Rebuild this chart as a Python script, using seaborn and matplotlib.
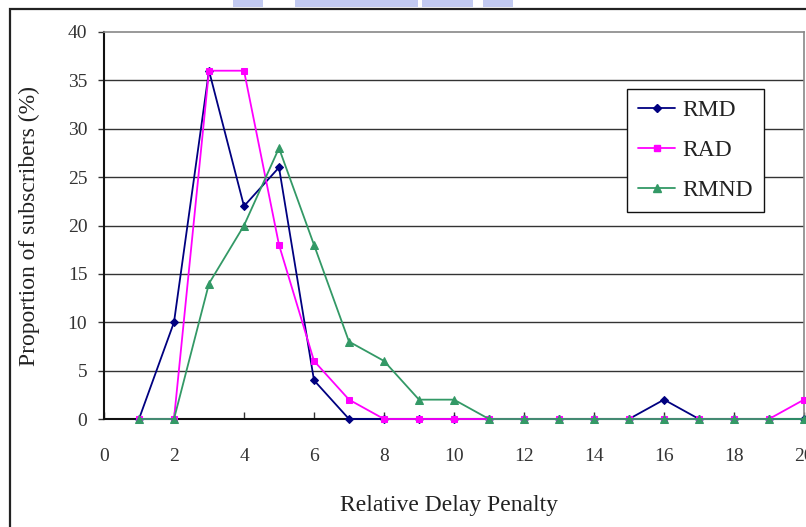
import numpy as np
import pandas as pd
import matplotlib
matplotlib.use("Agg")
import matplotlib.pyplot as plt
from matplotlib.patches import Rectangle
from matplotlib.lines import Line2D
import seaborn as sns

# Relative delay penalty (x) and share of subscribers (%) per scheme
penalty = list(range(1, 21))
rmd = [0, 10, 36, 22, 26, 4, 0, 0, 0, 0, 0, 0, 0, 0, 0, 2, 0, 0, 0, 0]
rad = [0, 0, 36, 36, 18, 6, 2, 0, 0, 0, 0, 0, 0, 0, 0, 0, 0, 0, 0, 2]
rmnd = [0, 0, 14, 20, 28, 18, 8, 6, 2, 2, 0, 0, 0, 0, 0, 0, 0, 0, 0, 0]
series_names = ["RMD", "RAD", "RMND"]
x_ticks = list(range(0, 21, 2))
y_ticks = list(range(0, 41, 5))

colors = {"RMD": "#000080", "RAD": "#FF00FF", "RMND": "#339966"}
markers = {"RMD": "D", "RAD": "s", "RMND": "^"}
msizes = {"RMD": 4.2, "RAD": 4.6, "RMND": 6.0}

df = pd.DataFrame({
    "penalty": penalty * 3,
    "share": rmd + rad + rmnd,
    "scheme": [n for n in series_names for _ in penalty],
})

sns.set_theme(style="white")
plt.rcParams["font.family"] = ["Liberation Serif", "DejaVu Serif"]

W, H = 806, 527
fig = plt.figure(figsize=(W / 100, H / 100), dpi=100)
fig.patch.set_facecolor("white")

def fx(px):
    return px / W

def fy(py):
    return 1 - py / H

# faint logo fragments peeking above the frame
for x0, x1 in [(233, 263), (295, 418), (422, 473), (483, 513)]:
    fig.patches.append(Rectangle((fx(x0), fy(7)), fx(x1 - x0), 7 / H,
                                 transform=fig.transFigure,
                                 facecolor="#b3bdee", edgecolor="none",
                                 alpha=0.8, zorder=0))

# outer chart frame
fig.patches.append(Rectangle((fx(10), fy(560)), fx(900), 551 / H,
                             transform=fig.transFigure, fill=False,
                             edgecolor="#222222", linewidth=1.6, zorder=1))

ax = fig.add_axes([fx(104), fy(419), fx(804 - 104), (419 - 32) / H])
ax.set_facecolor("white")

for name in series_names:
    sub = df[df["scheme"] == name]
    sns.lineplot(data=sub, x="penalty", y="share", ax=ax,
                 color=colors[name], marker=markers[name],
                 markersize=msizes[name], markeredgecolor=colors[name],
                 linewidth=1.3, clip_on=False, legend=False, zorder=3)

ax.set_xlim(0, 20)
ax.set_ylim(0, 40)
ax.set_xticks(x_ticks)
ax.set_yticks(y_ticks)
ax.set_xticklabels([str(t) for t in x_ticks])
ax.set_yticklabels([str(t) for t in y_ticks])

for y in y_ticks[1:-1]:
    ax.axhline(y, color="#333333", linewidth=1.0, zorder=1)

for side in ["left", "bottom"]:
    ax.spines[side].set_color("#111111")
    ax.spines[side].set_linewidth(1.5)
for side in ["top", "right"]:
    ax.spines[side].set_color("#888888")
    ax.spines[side].set_linewidth(1.2)

ax.tick_params(axis="x", direction="in", length=5, width=1, color="#333333",
               labelsize=14, labelcolor="#333333", pad=21)
ax.tick_params(axis="y", direction="out", length=4, width=1, color="#333333",
               labelsize=14, labelcolor="#333333", pad=8)
ax.tick_params(left=True, bottom=True)

ax.set_xlabel("Relative Delay Penalty", fontsize=17, color="#222222")
ax.xaxis.set_label_coords((449 - 104) / 700, -(505 - 419) / 387, transform=ax.transAxes)
ax.xaxis.label.set_verticalalignment("center")
ax.set_ylabel("Proportion of subscribers (%)", fontsize=17, color="#222222", labelpad=20)

handles = [Line2D([0], [0], color=colors[n], marker=markers[n],
                  markersize=msizes[n] * 0.9, linewidth=1.3) for n in series_names]
leg = ax.legend(handles, series_names, loc="upper left",
                bbox_to_anchor=((627 - 104) / 700, (419 - 89) / 387),
                fontsize=17, frameon=True, fancybox=False, handlelength=1.6,
                handletextpad=0.3, labelspacing=0.78, borderpad=0.45,
                borderaxespad=0)
leg.get_frame().set_edgecolor("#111111")
leg.get_frame().set_linewidth(1.0)
leg.get_frame().set_alpha(1)
for t in leg.get_texts():
    t.set_color("#222222")

fig.savefig("out.png", dpi=100)
